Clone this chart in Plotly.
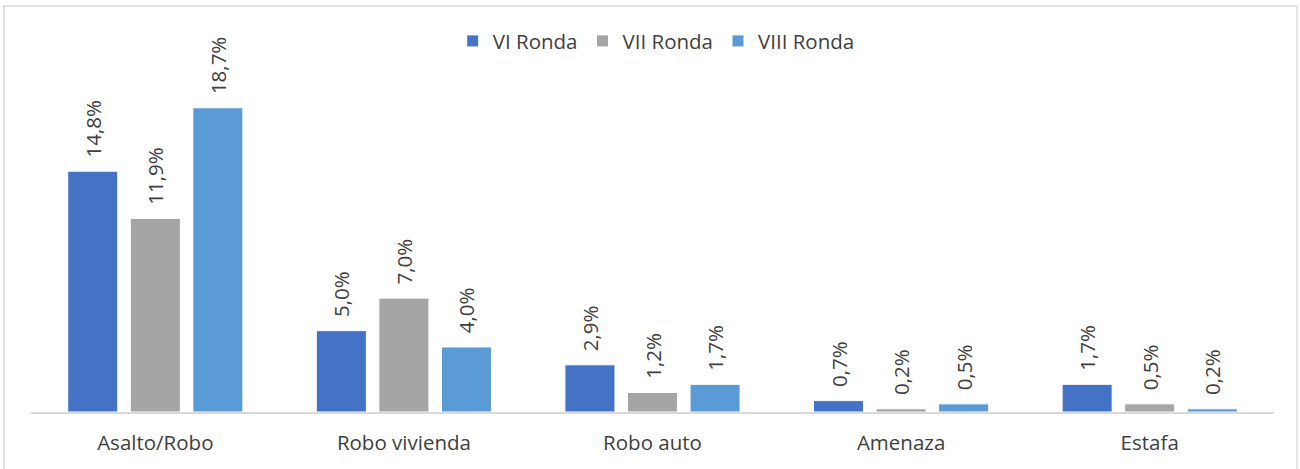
import plotly.graph_objects as go

categories = ["Asalto/Robo", "Robo vivienda", "Robo auto", "Amenaza", "Estafa"]
series_names = ["VI Ronda", "VII Ronda", "VIII Ronda"]
vi_ronda = [14.8, 5.0, 2.9, 0.7, 1.7]
vii_ronda = [11.9, 7.0, 1.2, 0.2, 0.5]
viii_ronda = [18.7, 4.0, 1.7, 0.5, 0.2]
colors = ["#4472C4", "#A5A5A5", "#5B9BD5"]

FONT = "Open Sans"
TXT = "#404040"
FS = 20.5

fig = go.Figure()
for name, vals, col in zip(series_names, [vi_ronda, vii_ronda, viii_ronda], colors):
    fig.add_trace(go.Bar(
        x=categories, y=vals, name=name,
        marker=dict(color=col, line=dict(color="white", width=1)),
        texttemplate="\u00a0\u00a0%{y:.1f}%",
        textposition="outside", textangle=-90,
        textfont=dict(family=FONT, size=FS, color=TXT),
        cliponaxis=False,
    ))

fig.update_layout(
    width=1300, height=469,
    separators=",.",
    barmode="group", bargap=0.245, bargroupgap=0.2,
    uniformtext=dict(minsize=FS, mode="show"),
    paper_bgcolor="white", plot_bgcolor="white",
    margin=dict(l=31, r=26, t=30, b=57, autoexpand=False),
    font=dict(family=FONT, size=FS, color=TXT),
    showlegend=True,
    legend=dict(orientation="h", x=0.503, xanchor="center", y=0.971, yanchor="middle",
                yref="paper", font=dict(family=FONT, size=FS, color=TXT),
                itemwidth=30, traceorder="normal", bgcolor="rgba(0,0,0,0)"),
    xaxis=dict(showline=True, linecolor="#D9D9D9", linewidth=2, ticks="outside",
               ticklen=11, tickcolor="white", showgrid=False, automargin=False,
               tickfont=dict(family=FONT, size=FS, color=TXT)),
    yaxis=dict(range=[0, 23.48], visible=False, showgrid=False, zeroline=False,
               automargin=False),
)
fig.add_shape(type="rect", xref="paper", yref="paper",
              x0=-27/1243, x1=1+23/1243, y0=-70/382, y1=1+24/382,
              line=dict(color="#D9D9D9", width=1.5), fillcolor="rgba(0,0,0,0)")

fig.write_html("out.html", config={"displayModeBar": False},
               post_script="document.body.style.margin='0';document.body.style.overflow='hidden';")
